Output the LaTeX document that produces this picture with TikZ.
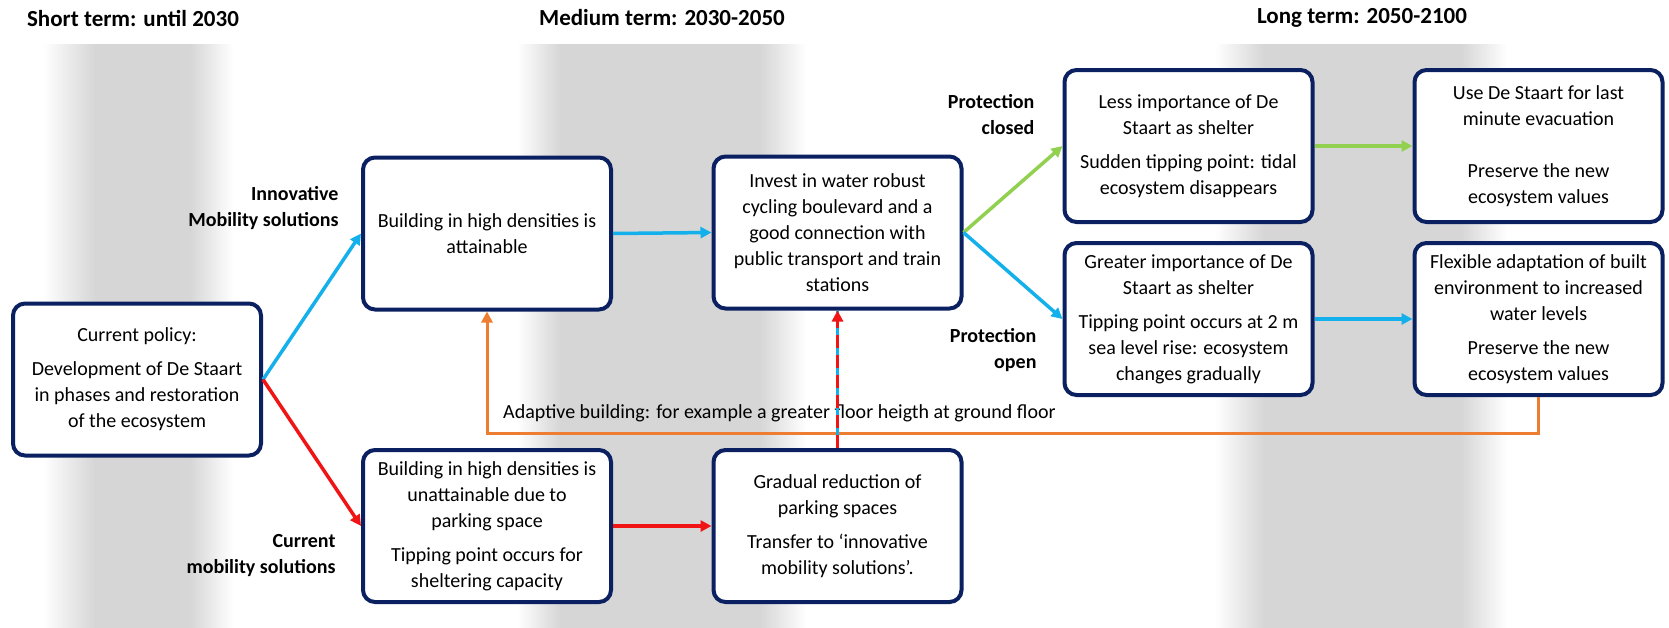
\documentclass[tikz,border=0pt]{standalone}
\usepackage{fontspec}
\setmainfont{Carlito}
\usetikzlibrary{arrows.meta}
\definecolor{navy}{RGB}{10,32,96}
\definecolor{band}{RGB}{214,214,214}
\definecolor{ablue}{RGB}{20,176,235}
\definecolor{ared}{RGB}{240,20,20}
\definecolor{agreen}{RGB}{146,208,80}
\definecolor{aorange}{RGB}{237,125,49}
\begin{document}
\begin{tikzpicture}[x=1pt,y=-1pt,
  box/.style={draw=navy, line width=4pt, fill=white, rounded corners=12pt, minimum width=248pt, minimum height=152pt, align=center, font=\fontsize{20}{26}\selectfont, inner sep=2pt},
  lbl/.style={font=\bfseries\fontsize{20}{26}\selectfont, align=right, anchor=east},
  ttl/.style={font=\bfseries\fontsize{23}{28}\selectfont},
  arr/.style={line width=3.5pt, -{Triangle[length=11pt,width=11pt]}},
]
\useasboundingbox (0,0) rectangle (1669,627);
\fill[white] (0,0) rectangle (1669,627);
% bands
\shade[left color=white, right color=band] (43,44) rectangle (95,635);
\fill[band] (95,44) rectangle (190,635);
\shade[left color=band, right color=white] (190,44) rectangle (233,635);
\shade[left color=white, right color=band] (517,44) rectangle (560,635);
\fill[band] (560,44) rectangle (760,635);
\shade[left color=band, right color=white] (760,44) rectangle (806,635);
\shade[left color=white, right color=band] (1215,44) rectangle (1264,635);
\fill[band] (1264,44) rectangle (1461,635);
\shade[left color=band, right color=white] (1461,44) rectangle (1507,635);
% titles
\node[ttl] (t1) at (133,18) {Short term: until 2030};
\node[ttl] (t2) at (662,18) {Medium term: 2030-2050};
\node[ttl] (t3) at (1362,18) {Long term: 2050-2100};
% boxes
\node[box] (A) at (137,379.5) {Current policy:\\[8pt]Development of De Staart\\in phases and restoration\\of the ecosystem};
\node[box] (B) at (487,233.5) {Building in high densities is\\attainable};
\node[box] (C) at (837.5,232.5) {Invest in water robust\\cycling boulevard and a\\good connection with\\public transport and train\\stations};
\node[box] (D) at (1188.5,146) {Less importance of De\\Staart as shelter\\[8pt]Sudden tipping point: tidal\\ecosystem disappears};
\node[box] (E) at (1538.5,146) {Use De Staart for last\\minute evacuation\\[26pt]Preserve the new\\ecosystem values};
\node[box] (F) at (1188.5,319) {Greater importance of De\\Staart as shelter\\[8pt]Tipping point occurs at 2 m\\sea level rise: ecosystem\\changes gradually};
\node[box] (G) at (1538.5,319) {Flexible adaptation of built\\environment to increased\\water levels\\[8pt]Preserve the new\\ecosystem values};
\node[box] (H) at (487,526) {Building in high densities is\\unattainable due to\\parking space\\[8pt]Tipping point occurs for\\sheltering capacity};
\node[box] (I) at (837.5,526) {Gradual reduction of\\parking spaces\\[8pt]Transfer to ‘innovative\\mobility solutions’.};
% labels
\node[lbl] (l1) at (342,208) {Innovative\\Mobility solutions};
\node[lbl] (l2) at (339,556) {Current\\mobility solutions};
\node[lbl] (l3) at (1038,115) {Protection\\closed};
\node[lbl] (l4) at (1040,350) {Protection\\open};
\node[font=\fontsize{20}{26}\selectfont, anchor=west, inner sep=2pt] (adapt) at (501,413) {Adaptive building: for example a greater floor heigth at ground floor};
% connectors
\draw[arr, ablue] (A.east) -- (B.west);
\draw[arr, ared] (A.east) -- (H.west);
\draw[arr, ablue] (B.east) -- (C.west);
\draw[arr, ared] (H.east) -- (I.west);
\draw[arr, agreen] (C.east) -- (D.west);
\draw[arr, ablue] (C.east) -- (F.west);
\draw[arr, agreen] (D.east) -- (E.west);
\draw[arr, ablue] (F.east) -- (G.west);
\coordinate (ob) at (1538.5,433);
\draw[arr, aorange, line width=3pt] (G.south) -- (G.south |- ob) -| (B.south);
\draw[ablue, line width=3.5pt] (I.north) -- (C.south);
\draw[arr, ared, dash pattern=on 13pt off 7pt] (I.north) -- (C.south);
\end{tikzpicture}
\end{document}
